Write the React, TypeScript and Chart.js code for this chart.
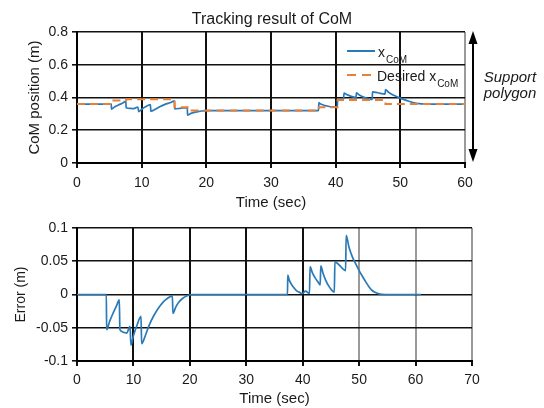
import React, { useEffect, useRef } from 'react';
import { Chart, registerables } from 'chart.js';

Chart.register(...registerables);

// ---- Data ----
const comTime = [0, 5.3, 5.33, 5.8, 6.4, 7.0, 7.55, 7.6, 8.3, 8.8, 9.4, 9.55, 10.0, 10.6, 11.35, 11.42, 12.1, 12.8, 13.6, 14.6, 15.05, 15.1, 16.0, 17.05, 17.1, 17.5, 18.1, 18.7, 19.3, 20.5, 37.35, 37.4, 37.6, 38.1, 38.6, 39.0, 39.5, 40.25, 40.3, 40.6, 41.2, 41.3, 41.7, 42.2, 42.7, 43.15, 43.2, 43.6, 44.1, 44.6, 45.1, 45.65, 45.7, 46.5, 47.65, 47.7, 48.2, 48.8, 49.4, 50.0, 50.6, 51.2, 51.8, 52.3, 52.9, 53.5, 54.7, 60];
const comValues = [0.36, 0.36, 0.329, 0.342, 0.354, 0.365, 0.376, 0.337, 0.333, 0.332, 0.342, 0.314, 0.328, 0.343, 0.357, 0.316, 0.328, 0.344, 0.358, 0.3715, 0.38, 0.331, 0.334, 0.338, 0.2915, 0.301, 0.309, 0.314, 0.3175, 0.32, 0.32, 0.369, 0.362, 0.354, 0.3485, 0.345, 0.343, 0.342, 0.388, 0.39, 0.3865, 0.427, 0.418, 0.41, 0.404, 0.3995, 0.428, 0.417, 0.406, 0.398, 0.392, 0.3885, 0.434, 0.429, 0.421, 0.449, 0.431, 0.4165, 0.406, 0.396, 0.387, 0.3786, 0.371, 0.366, 0.363, 0.361, 0.36, 0.36];

const desiredTime = [0, 5.3, 7.6, 15.1, 17.1, 37.4, 40.3, 47.7, 60];
const desiredValues = [0.36, 0.382, 0.39, 0.34, 0.32, 0.34, 0.385, 0.36, 0.36];

const errorTime = [0, 5.2, 5.25, 5.8, 6.4, 7.0, 7.5, 7.6, 8.3, 8.8, 9.4, 9.55, 10.0, 10.6, 11.35, 11.45, 12.1, 12.8, 13.6, 14.6, 15.3, 16.0, 16.9, 17.0, 17.5, 18.1, 18.7, 19.3, 20.5, 37.3, 37.35, 37.6, 38.1, 38.6, 39.0, 39.5, 39.9, 40.5, 41.2, 41.3, 41.7, 42.2, 42.7, 43.1, 43.2, 43.6, 44.1, 44.6, 45.1, 45.6, 45.7, 46.5, 47.6, 47.7, 48.2, 48.8, 49.4, 50.0, 50.6, 51.2, 51.8, 52.3, 52.9, 53.5, 54.7, 61];
const errorValues = [0, 0, -0.053, -0.04, -0.028, -0.017, -0.008, -0.053, -0.057, -0.058, -0.048, -0.076, -0.062, -0.047, -0.033, -0.074, -0.062, -0.046, -0.032, -0.0185, -0.011, -0.006, -0.002, -0.0285, -0.019, -0.011, -0.006, -0.0025, 0, 0, 0.029, 0.022, 0.014, 0.0085, 0.005, 0.003, 0.0015, 0.005, 0.0015, 0.042, 0.033, 0.025, 0.019, 0.0145, 0.043, 0.032, 0.021, 0.013, 0.007, 0.0035, 0.049, 0.044, 0.036, 0.089, 0.071, 0.0565, 0.046, 0.036, 0.027, 0.0186, 0.011, 0.006, 0.003, 0.001, 0, 0];

const topXTicks = [0, 10, 20, 30, 40, 50, 60];
const topYTicks = [0, 0.2, 0.4, 0.6, 0.8];
const bottomXTicks = [0, 10, 20, 30, 40, 50, 60, 70];
const bottomYTicks = [-0.1, -0.05, 0, 0.05, 0.1];

const topTitle = 'Tracking result of CoM';
const topYTitle = 'CoM position (m)';
const bottomYTitle = 'Error (m)';
const xTitle = 'Time (sec)';
const legendLabel1 = 'x';
const legendLabel2 = 'Desired x';
const legendSub = 'CoM';
const supportLines = ['Support', 'polygon'];

// ---- Styles ----
const FONT = '"Liberation Sans", Arial, sans-serif';
const TEXT = '#1a1a1a';
const BLUE = '#2a7ab8';
const ORANGE = '#e8803a';
const DARK = '#111111';
const GREY = '#9a9a9a';

const fmt = (v: number) => {
  const r = Math.round(v * 1000) / 1000;
  return r === 0 ? '0' : String(r);
};

const toXY = (xs: number[], ys: number[]) => xs.map((x, i) => ({ x, y: ys[i] }));

const topOverlay = {
  id: 'topOverlay',
  afterDraw(chart: any) {
    const ctx = chart.ctx;
    const area = chart.chartArea;
    const ys = chart.scales.y;
    ctx.save();
    // title
    ctx.fillStyle = TEXT;
    ctx.font = `16px ${FONT}`;
    ctx.textAlign = 'center';
    ctx.textBaseline = 'middle';
    ctx.fillText(topTitle, (area.left + area.right) / 2 + 1, 20);

    // legend
    const lx0 = area.right - 118;
    const lx1 = area.right - 90;
    const tx = area.right - 87;
    ctx.lineWidth = 2;
    ctx.setLineDash([]);
    ctx.strokeStyle = BLUE;
    ctx.beginPath();
    ctx.moveTo(lx0, 51);
    ctx.lineTo(lx1, 51);
    ctx.stroke();
    ctx.strokeStyle = ORANGE;
    ctx.setLineDash([9, 6]);
    ctx.beginPath();
    ctx.moveTo(lx0, 75);
    ctx.lineTo(lx1 + 1, 75);
    ctx.stroke();
    ctx.setLineDash([]);
    ctx.fillStyle = TEXT;
    ctx.textAlign = 'left';
    ctx.textBaseline = 'alphabetic';
    ctx.font = `14px ${FONT}`;
    ctx.fillText(legendLabel1, tx, 57);
    let w = ctx.measureText(legendLabel1).width;
    ctx.font = `10px ${FONT}`;
    ctx.fillText(legendSub, tx + w + 1, 63);
    ctx.font = `14px ${FONT}`;
    ctx.fillText(legendLabel2, tx - 1, 80.5);
    w = ctx.measureText(legendLabel2).width;
    ctx.font = `10px ${FONT}`;
    ctx.fillText(legendSub, tx - 1 + w + 1, 87);

    // support polygon double arrow
    const ax = area.right + 8;
    const yTop = ys.getPixelForValue(0.8) - 1;
    const yBot = ys.getPixelForValue(0) - 1;
    ctx.strokeStyle = '#000';
    ctx.fillStyle = '#000';
    ctx.lineWidth = 2;
    ctx.beginPath();
    ctx.moveTo(ax, yTop + 8);
    ctx.lineTo(ax, yBot - 8);
    ctx.stroke();
    ctx.beginPath();
    ctx.moveTo(ax, yTop);
    ctx.lineTo(ax - 4.5, yTop + 13);
    ctx.lineTo(ax + 4.5, yTop + 13);
    ctx.closePath();
    ctx.fill();
    ctx.beginPath();
    ctx.moveTo(ax, yBot);
    ctx.lineTo(ax - 4.5, yBot - 13);
    ctx.lineTo(ax + 4.5, yBot - 13);
    ctx.closePath();
    ctx.fill();

    ctx.fillStyle = TEXT;
    ctx.font = `italic 15px ${FONT}`;
    ctx.textAlign = 'center';
    ctx.textBaseline = 'middle';
    ctx.fillText(supportLines[0], 510, 78);
    ctx.fillText(supportLines[1], 510, 94);
    ctx.restore();
  },
};

export default function App() {
  const topRef = useRef<HTMLCanvasElement>(null);
  const botRef = useRef<HTMLCanvasElement>(null);

  useEffect(() => {
    const tickFont = { family: FONT, size: 14 };
    const c1 = new Chart(topRef.current as HTMLCanvasElement, {
      type: 'line',
      data: {
        datasets: [
          {
            label: 'Desired',
            data: toXY(desiredTime, desiredValues),
            borderColor: ORANGE,
            borderWidth: 2,
            borderDash: [8, 5],
            stepped: 'before',
            pointRadius: 0,
            fill: false,
          },
          {
            label: 'xCoM',
            data: toXY(comTime, comValues),
            borderColor: BLUE,
            borderWidth: 1.7,
            cubicInterpolationMode: 'monotone',
            pointRadius: 0,
            fill: false,
          },
        ],
      },
      options: {
        responsive: false,
        maintainAspectRatio: false,
        animation: false,
        layout: { padding: { left: 0, right: 79, top: 32, bottom: 0 } },
        plugins: {
          legend: { display: false },
          tooltip: { enabled: false },
          title: { display: false },
        },
        scales: {
          x: {
            type: 'linear',
            min: 0,
            max: 60,
            afterBuildTicks: (s: any) => {
              s.ticks = topXTicks.map((v) => ({ value: v }));
            },
            afterFit: (s: any) => {
              s.height = 49;
            },
            grid: {
              color: (c: any) => (c.tick && c.tick.value >= 60 ? GREY : DARK),
              lineWidth: 2,
              tickLength: 5,
              tickColor: DARK,
            },
            border: { display: true, color: '#000', width: 2 },
            ticks: { font: tickFont, color: TEXT, padding: 7, maxRotation: 0, autoSkip: false, callback: (v: any) => fmt(Number(v)) },
            title: { display: true, text: xTitle, color: TEXT, font: { family: FONT, size: 15 }, padding: { top: 0, bottom: 0 } },
          },
          y: {
            type: 'linear',
            min: 0,
            max: 0.8,
            afterBuildTicks: (s: any) => {
              s.ticks = topYTicks.map((v) => ({ value: v }));
            },
            afterFit: (s: any) => {
              s.width = 77;
            },
            grid: { color: DARK, lineWidth: 1.6, tickLength: 5, tickColor: DARK },
            border: { display: true, color: '#000', width: 2 },
            ticks: { font: tickFont, color: TEXT, padding: 4, autoSkip: false, callback: (v: any) => fmt(Number(v)) },
            title: { display: true, text: topYTitle, color: TEXT, font: { family: FONT, size: 15 }, padding: { top: 26, bottom: 0 } },
          },
        },
      },
      plugins: [topOverlay],
    } as any);

    const c2 = new Chart(botRef.current as HTMLCanvasElement, {
      type: 'line',
      data: {
        datasets: [
          {
            label: 'Error',
            data: toXY(errorTime, errorValues),
            borderColor: BLUE,
            borderWidth: 1.7,
            cubicInterpolationMode: 'monotone',
            pointRadius: 0,
            fill: false,
          },
        ],
      },
      options: {
        responsive: false,
        maintainAspectRatio: false,
        animation: false,
        layout: { padding: { left: 0, right: 72, top: 16, bottom: 0 } },
        plugins: { legend: { display: false }, tooltip: { enabled: false }, title: { display: false } },
        scales: {
          x: {
            type: 'linear',
            min: 0,
            max: 70,
            afterBuildTicks: (s: any) => {
              s.ticks = bottomXTicks.map((v) => ({ value: v }));
            },
            afterFit: (s: any) => {
              s.height = 47;
            },
            grid: {
              color: (c: any) => (c.tick && c.tick.value >= 50 ? GREY : DARK),
              lineWidth: 2,
              tickLength: 5,
              tickColor: DARK,
            },
            border: { display: true, color: '#000', width: 2 },
            ticks: { font: tickFont, color: TEXT, padding: 6, maxRotation: 0, autoSkip: false, callback: (v: any) => fmt(Number(v)) },
            title: { display: true, text: xTitle, color: TEXT, font: { family: FONT, size: 15 }, padding: { top: 0, bottom: 0 } },
          },
          y: {
            type: 'linear',
            min: -0.1,
            max: 0.1,
            afterBuildTicks: (s: any) => {
              s.ticks = bottomYTicks.map((v) => ({ value: v }));
            },
            afterFit: (s: any) => {
              s.width = 77;
            },
            grid: { color: DARK, lineWidth: 1.6, tickLength: 5, tickColor: DARK },
            border: { display: true, color: '#000', width: 2 },
            ticks: { font: tickFont, color: TEXT, padding: 4, autoSkip: false, callback: (v: any) => fmt(Number(v)) },
            title: { display: true, text: bottomYTitle, color: TEXT, font: { family: FONT, size: 14 }, padding: { top: 12.6, bottom: 0 } },
          },
        },
      },
    } as any);

    return () => {
      c1.destroy();
      c2.destroy();
    };
  }, []);

  return (
    <div style={{ position: 'absolute', left: 0, top: 0, width: 544, height: 408, background: '#fff', overflow: 'hidden' }}>
      <canvas ref={topRef} width={544} height={212} style={{ position: 'absolute', left: 0, top: 0, display: 'block' }} />
      <canvas ref={botRef} width={544} height={196} style={{ position: 'absolute', left: 0, top: 212, display: 'block' }} />
    </div>
  );
}
